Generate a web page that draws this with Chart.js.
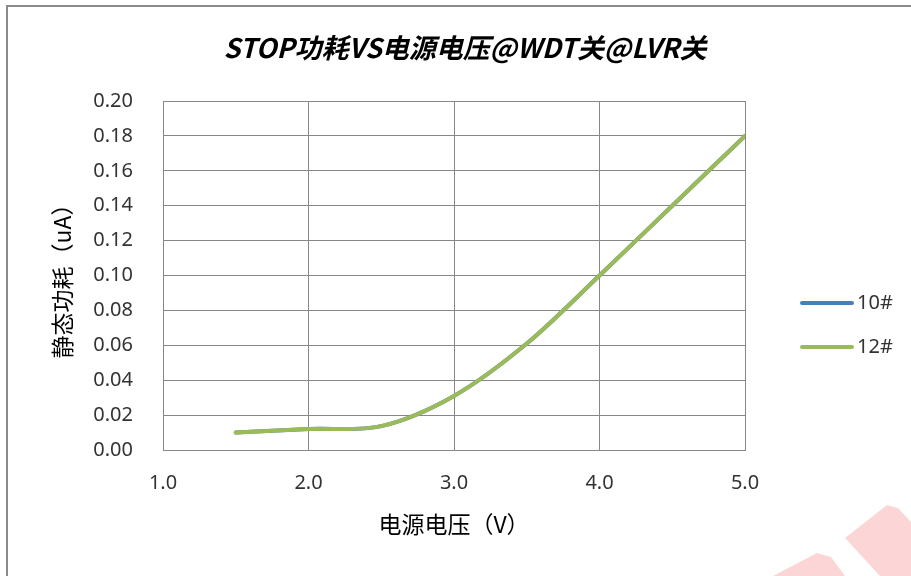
<!DOCTYPE html>
<html>
<head>
<meta charset="utf-8">
<script src="https://cdn.jsdelivr.net/npm/chart.js@4.4.1/dist/chart.umd.min.js"></script>
<style>
  html, body { margin: 0; padding: 0; background: #fff; }
  #wrap { width: 911px; height: 576px; position: relative; }
</style>
</head>
<body>
<div id="wrap"><canvas id="stop-chart"></canvas></div>
<script>
// Данные графика
const chartTitle = 'STOP功耗VS电源电压@WDT关@LVR关';
const xTitle = '电源电压（V）';
const yTitle = '静态功耗（uA）';
const seriesNames = ['10#', '12#'];
const seriesColors = ['#4a7ebb', '#9bbb59'];
const voltage = [1.5, 2.0, 2.5, 3.0, 3.5, 4.0, 4.5, 5.0];
const current10 = [0.010, 0.012, 0.0137, 0.031, 0.061, 0.100, 0.140, 0.180];
const current12 = [0.010, 0.012, 0.0137, 0.031, 0.061, 0.100, 0.140, 0.180];
const xMin = 1.0, xMax = 5.0, xStep = 1.0;
const yMin = 0, yMax = 0.20, yStep = 0.02;

const tickFont = { family: '"Noto Sans", "Noto Sans CJK SC", sans-serif', size: 20 };
const cjkFont = '"Noto Sans CJK SC", "Noto Sans", sans-serif';

function toPoints(xs, ys) {
  return xs.map((x, i) => ({ x: x, y: ys[i] }));
}

// Фон, рамка и водяной знак
const framePlugin = {
  id: 'frame',
  beforeDraw(chart) {
    const ctx = chart.ctx;
    ctx.save();
    ctx.fillStyle = '#fff';
    ctx.fillRect(0, 0, chart.width, chart.height);
    ctx.fillStyle = 'rgba(245, 120, 120, 0.3)';
    ctx.beginPath();
    ctx.moveTo(773, 576); ctx.lineTo(817, 553); ctx.lineTo(831, 557); ctx.lineTo(845, 576);
    ctx.closePath(); ctx.fill();
    ctx.beginPath();
    ctx.moveTo(845, 538); ctx.lineTo(887, 505); ctx.lineTo(898, 508); ctx.lineTo(911, 522);
    ctx.lineTo(911, 576); ctx.lineTo(880, 576);
    ctx.closePath(); ctx.fill();
    ctx.strokeStyle = '#8a8a8a';
    ctx.lineWidth = 2;
    ctx.beginPath();
    ctx.moveTo(7, 580); ctx.lineTo(7, 6); ctx.lineTo(915, 6);
    ctx.stroke();
    ctx.restore();
  },
  // Заголовок и легенда рисуем сами
  afterDraw(chart) {
    const ctx = chart.ctx;
    ctx.save();
    ctx.fillStyle = '#000';
    ctx.font = 'italic bold 27px ' + cjkFont;
    ctx.textAlign = 'center';
    ctx.textBaseline = 'middle';
    ctx.fillText(chartTitle, 465, 48);

    const legendY = [303, 347];
    chart.data.datasets.forEach((ds, i) => {
      ctx.strokeStyle = ds.borderColor;
      ctx.lineWidth = 4;
      ctx.lineCap = 'round';
      ctx.beginPath();
      ctx.moveTo(802, legendY[i]);
      ctx.lineTo(852, legendY[i]);
      ctx.stroke();
      ctx.fillStyle = '#333';
      ctx.font = tickFont.size + 'px ' + tickFont.family;
      ctx.textAlign = 'left';
      ctx.fillText(ds.label, 857, legendY[i]);
    });
    ctx.restore();
  }
};

const data = {
  datasets: [
    { label: seriesNames[0], data: toPoints(voltage, current10), borderColor: seriesColors[0], order: 1 },
    { label: seriesNames[1], data: toPoints(voltage, current12), borderColor: seriesColors[1], order: 0 }
  ]
};

const config = {
  type: 'line',
  data: data,
  options: {
    responsive: false,
    animation: false,
    layout: { padding: { left: 0, top: 101, right: 166, bottom: 0 } },
    elements: {
      line: { borderWidth: 4, tension: 0.33, borderCapStyle: 'round' },
      point: { radius: 0 }
    },
    plugins: {
      legend: { display: false },
      title: { display: false },
      tooltip: { enabled: false }
    },
    scales: {
      x: {
        type: 'linear',
        min: xMin,
        max: xMax,
        afterFit(scale) { scale.height = 126; },
        grid: { color: '#878787', drawTicks: false },
        border: { color: '#878787' },
        ticks: {
          stepSize: xStep,
          padding: 21,
          color: '#333',
          font: tickFont,
          callback: v => v.toFixed(1)
        },
        title: {
          display: true,
          text: xTitle,
          color: '#000',
          font: { family: cjkFont, size: 23 },
          padding: { top: 0, bottom: 38 }
        }
      },
      y: {
        min: yMin,
        max: yMax,
        afterFit(scale) { scale.width = 163; },
        grid: { color: '#878787', drawTicks: false },
        border: { color: '#878787' },
        ticks: {
          stepSize: yStep,
          padding: 30,
          color: '#333',
          font: tickFont,
          callback: v => v.toFixed(2)
        },
        title: {
          display: true,
          text: yTitle,
          color: '#000',
          font: { family: cjkFont, size: 23 },
          padding: { top: 48, bottom: 0 }
        }
      }
    }
  },
  plugins: [framePlugin]
};

const canvas = document.getElementById('stop-chart');
canvas.width = 911;
canvas.height = 576;
new Chart(canvas, config);
</script>
</body>
</html>
